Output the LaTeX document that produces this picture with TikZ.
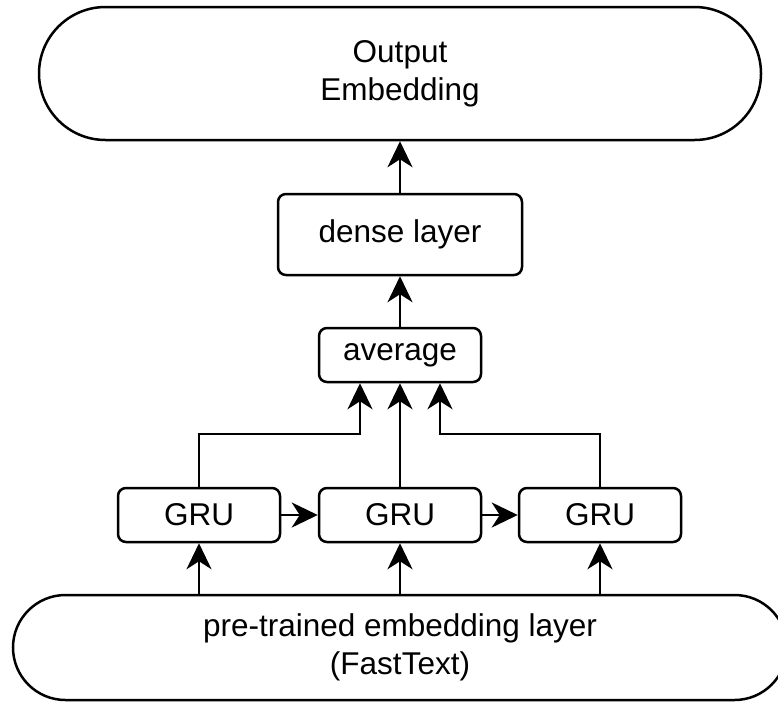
\documentclass[tikz,border=0pt]{standalone}
\usepackage{fontspec}
\setmainfont{Liberation Sans}
\usetikzlibrary{shapes.misc,arrows.meta,positioning,calc}

\begin{document}
\begin{tikzpicture}[
  x=1pt, y=-1pt,
  pill/.style={rounded rectangle, draw=black, line width=2.5pt, align=center, inner sep=0pt, fill=white},
  layer/.style={rectangle, rounded corners=8pt, draw=black, line width=2.5pt, minimum height=54pt, align=center, inner sep=0pt, fill=white},
  flow/.style={line width=2.5pt, ->},
  every node/.style={font=\fontsize{31.5}{38}\selectfont},
  >={Stealth[length=26pt, width=25pt, inset=8pt]}
]
\useasboundingbox (0,0) rectangle (778,702);

% --- Nodos ---
\node[pill, minimum width=722pt, minimum height=133pt] (out) at (400,73.5) {Output\\Embedding};
\node[layer, minimum width=244pt, minimum height=81pt] (dense) at (400,234.5) {dense layer};
\node[layer, minimum width=162pt] (avg) at (400,355) {average};
\node[layer, minimum width=162pt] (gru1) at (199,515) {GRU};
\node[layer, minimum width=162pt] (gru2) at (400,515) {GRU};
\node[layer, minimum width=162pt] (gru3) at (600,515) {GRU};
\node[pill, minimum width=774pt, minimum height=105pt] (emb) at (400,647.5) {pre-trained embedding layer\\(FastText)};

% --- Flujo ---
\draw[flow] (gru1 |- emb.north) -- (gru1);
\draw[flow] (gru2 |- emb.north) -- (gru2);
\draw[flow] (gru3 |- emb.north) -- (gru3);
\draw[flow] (gru1) -- (gru2);
\draw[flow] (gru2) -- (gru3);
\draw[flow] (gru1.north) -- ++(0,-53) -| ([xshift=-40pt]avg.south);
\draw[flow] (gru2) -- (avg);
\draw[flow] (gru3.north) -- ++(0,-53) -| ([xshift=40pt]avg.south);
\draw[flow] (avg) -- (dense);
\draw[flow] (dense) -- (out);

\end{tikzpicture}
\end{document}
